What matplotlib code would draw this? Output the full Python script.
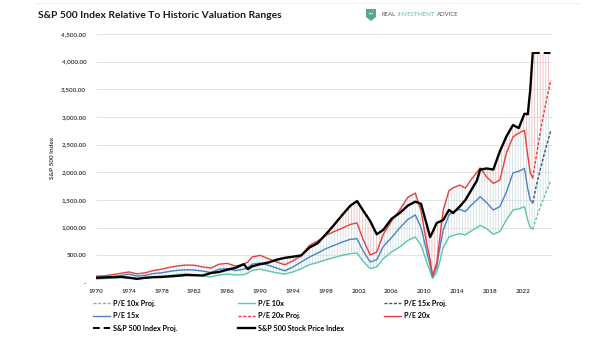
import numpy as np
import matplotlib
matplotlib.use('Agg')
import matplotlib.pyplot as plt
from matplotlib.ticker import FuncFormatter, MultipleLocator
from matplotlib.patches import Polygon

plt.rcParams['font.family'] = ['Lato', 'DejaVu Sans']
plt.rcParams['hatch.linewidth'] = 0.5

# Data (x in axis-label years)
years = [1970, 1971, 1972, 1973, 1974, 1975, 1976, 1977, 1978, 1979,
         1980, 1981, 1982, 1983, 1984, 1985, 1986, 1987, 1988, 1988.5,
         1989, 1990, 1991, 1992, 1993, 1994, 1995, 1996, 1997, 1998,
         1999, 2000, 2001, 2001.8, 2002.5, 2003.4, 2004.2, 2005, 2006, 2007,
         2008, 2008.9, 2009.6, 2010.3, 2010.7, 2011.0, 2011.5, 2011.9, 2012.3, 2013,
         2013.5, 2014.3, 2015, 2015.6, 2016.4, 2016.8, 2017.6, 2018.4, 2019.2, 2020,
         2020.8, 2021.5, 2022.2, 2022.6, 2022.9, 2023.2]

sp500 = [95, 100, 105, 110, 95, 75, 95, 105, 110, 120,
         130, 145, 140, 135, 180, 200, 240, 275, 340, 250,
         300, 340, 370, 420, 455, 475, 500, 640, 720, 880,
         1050, 1230, 1400, 1480, 1320, 1120, 880, 960, 1160, 1265,
         1400, 1470, 1430, 1050, 830, 920, 1085, 1110, 1140, 1320,
         1265, 1380, 1500, 1650, 1850, 2050, 2070, 2050, 2380, 2650,
         2855, 2800, 3060, 3050, 3490, 4150]

pe20 = [125, 130, 150, 175, 200, 165, 185, 225, 250, 285,
        310, 325, 320, 290, 270, 340, 355, 305, 340, 380,
        470, 500, 440, 380, 330, 400, 490, 680, 760, 860,
        930, 990, 1060, 1085, 800, 505, 560, 880, 1120, 1320,
        1550, 1625, 1300, 700, 420, 140, 360, 830, 1320, 1670,
        1720, 1770, 1715, 1850, 2000, 2080, 1915, 1800, 1860, 2350,
        2640, 2710, 2760, 2300, 1990, 1900]

pe15 = [95, 100, 115, 135, 160, 125, 140, 170, 185, 210,
        230, 240, 235, 215, 190, 250, 260, 225, 250, 280,
        340, 360, 320, 270, 220, 290, 380, 470, 540, 620,
        680, 740, 790, 800, 590, 380, 420, 660, 820, 995,
        1150, 1230, 1000, 560, 320, 110, 290, 650, 960, 1230,
        1290, 1330, 1290, 1390, 1500, 1560, 1450, 1320, 1380, 1645,
        1990, 2020, 2070, 1700, 1500, 1445]

pe10 = [72, 80, 90, 100, 108, 75, 90, 105, 115, 135,
        155, 163, 150, 130, 110, 145, 160, 145, 150, 180,
        225, 250, 215, 185, 160, 200, 260, 330, 370, 420,
        460, 500, 530, 540, 400, 260, 290, 440, 560, 650,
        770, 830, 680, 370, 210, 80, 190, 400, 640, 830,
        860, 890, 870, 930, 1000, 1040, 980, 880, 930, 1140,
        1320, 1340, 1380, 1130, 1000, 976]

proj_years = [2023.2, 2023.7, 2024.2, 2024.8, 2025.4]
sp500_proj = [4150, 4150, 4150, 4150, 4150]
pe20_proj = [1900, 2350, 2800, 3250, 3670]
pe15_proj = [1445, 1800, 2100, 2440, 2750]
pe10_proj = [976, 1200, 1400, 1630, 1850]

year_ticks = list(range(1970, 2023, 4))

C_TEAL = '#5cc6a6'
C_BLUE = '#4f80c2'
C_RED = '#e5403d'
C_SLATE = '#3f5068'
H_LOW = '#c6d9e0'
H_HIGH = '#eab0b0'

x = np.array(years)
sp = np.array(sp500)
r20 = np.array(pe20)
px = np.array(proj_years)

fig = plt.figure(figsize=(6.05, 3.41), dpi=100)
ax = fig.add_axes([96/605, 1 - 283/341, 456/605, 249/341])

# Vertical hatched bands between the valuation lines
ax.fill_between(x, pe10, r20, facecolor='none', edgecolor=H_LOW,
                hatch='||||||', linewidth=0, zorder=1)
ax.fill_between(x, r20, sp, where=sp > r20, interpolate=True, facecolor='none',
                edgecolor=H_HIGH, hatch='||||||', linewidth=0, zorder=1)
ax.fill_between(px, pe10_proj, pe20_proj, facecolor='none', edgecolor=H_LOW,
                hatch='||||||', linewidth=0, zorder=1)
ax.fill_between(px, pe20_proj, sp500_proj, facecolor='none', edgecolor=H_HIGH,
                hatch='||||||', linewidth=0, zorder=1)

l10p, = ax.plot(px, pe10_proj, color=C_TEAL, lw=1.0, ls=(0, (2.2, 1.2)), zorder=3)
l10, = ax.plot(x, pe10, color=C_TEAL, lw=1.0, zorder=3)
l15p, = ax.plot(px, pe15_proj, color=C_SLATE, lw=1.0, ls=(0, (2.2, 1.2)), zorder=3)
l15, = ax.plot(x, pe15, color=C_BLUE, lw=1.0, zorder=3)
l20p, = ax.plot(px, pe20_proj, color=C_RED, lw=1.0, ls=(0, (2.2, 1.2)), zorder=3)
l20, = ax.plot(x, pe20, color=C_RED, lw=1.0, zorder=3)
lspp, = ax.plot(px, sp500_proj, color='black', lw=1.4, ls=(0, (3.5, 2)), zorder=4)
lsp, = ax.plot(x, sp500, color='black', lw=1.7, zorder=4)

ax.set_xlim(1970, 2025.55)
ax.set_ylim(0, 4500)
ax.yaxis.set_major_locator(MultipleLocator(500))
ax.yaxis.set_major_formatter(FuncFormatter(lambda v, p: '-' if v == 0 else '{:,.2f}'.format(v)))
ax.set_xticks(year_ticks)
ax.grid(axis='y', color='#e4e4e4', lw=0.7, zorder=0)
ax.set_axisbelow(True)
for s in ax.spines.values():
    s.set_visible(False)
ax.tick_params(axis='both', length=0, labelsize=4.6, labelcolor='#404040')
ax.tick_params(axis='y', pad=7)
ax.tick_params(axis='x', pad=4.5)
for t in ax.get_xticklabels() + ax.get_yticklabels():
    t.set_fontweight('bold')

fig.text(53/605, 1 - 158/341, 'S&P 500 Index', rotation=90, ha='center', va='center',
         fontsize=4.6, fontweight='bold', color='#404040')

# Title and logo
fig.text(38/605, 1 - 15/341, 'S&P 500 Index Relative To Historic Valuation Ranges',
         ha='left', va='center', fontsize=7.4, fontweight='bold', color='#1a1a1a')
fig.add_artist(plt.Line2D([35/605, 580/605], [1 - 3/341, 1 - 3/341],
                          color='#eeeeee', lw=0.6))
shield = Polygon([[366/605, 1 - 9/341], [376/605, 1 - 9/341], [376/605, 1 - 17/341],
                  [371/605, 1 - 21/341], [366/605, 1 - 17/341]],
                 closed=True, transform=fig.transFigure, facecolor='#5aa98f', edgecolor='none')
fig.add_artist(shield)
fig.text(371/605, 1 - 14/341, '•••', ha='center', va='center', fontsize=2.2, color='white')

renderer = fig.canvas.get_renderer()
xpos = 381 / 605
for word, col in [('REAL', '#555555'), ('INVESTMENT', '#5fbf97'), ('ADVICE', '#555555')]:
    t = fig.text(xpos, 1 - 15/341, word, ha='left', va='center', fontsize=4.3, color=col)
    bb = t.get_window_extent(renderer)
    xpos += (bb.width + 2.5) / fig.bbox.width

# Legend in three columns
cols = [
    ([l10p, l15, lspp], ['P/E 10x Proj.', 'P/E 15x', 'S&P 500 Index Proj.'], 97),
    ([l10, l20p, lsp], ['P/E 10x', 'P/E 20x Proj.', 'S&P 500 Stock Price Index'], 242),
    ([l15p, l20], ['P/E 15x Proj.', 'P/E 20x'], 388),
]
for handles, labels, xl in cols:
    fig.legend(handles, labels, loc='upper left', bbox_to_anchor=(xl/605 - 0.006, 1 - 300/341),
               frameon=False, handlelength=2.3, handletextpad=0.4,
               labelspacing=0.75, borderpad=0, borderaxespad=0,
               prop={'weight': 'bold', 'size': 5.2})

fig.savefig('out.png', dpi=100)
